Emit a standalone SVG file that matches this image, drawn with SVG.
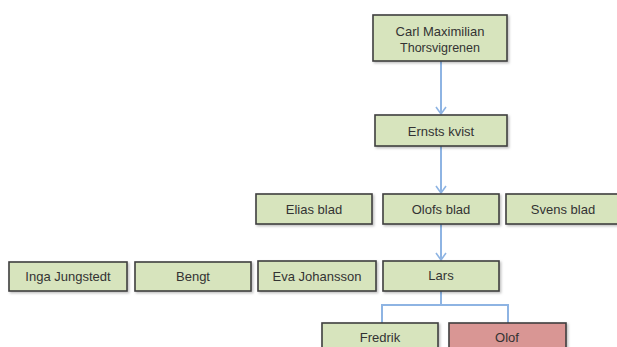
<svg xmlns="http://www.w3.org/2000/svg" width="617" height="347" viewBox="0 0 617 347">
<style>
.box{fill:#d7e4bd;stroke:#3f3f3f;stroke-width:1.6;filter:url(#sh)}
.red{fill:#d99694}
.t{font-family:"Liberation Sans",Arial,sans-serif;font-size:13px;fill:#333;text-anchor:middle;dominant-baseline:central}
.c{fill:none;stroke:#8eb4e3;stroke-width:2}
</style>
<defs>
<filter id="sh" x="-10%" y="-20%" width="130%" height="160%">
<feDropShadow dx="1.5" dy="1.5" stdDeviation="1" flood-color="#000" flood-opacity="0.25"/>
</filter>
<marker id="ah" viewBox="0 0 10 12" refX="9" refY="6" markerWidth="10" markerHeight="12" markerUnits="userSpaceOnUse" orient="auto">
<path d="M2,1 L9,6 L2,11" fill="none" stroke="#8eb4e3" stroke-width="1.6"/>
</marker>
</defs>
<g id="connectors">
<path class="c" d="M441,61 V114" marker-end="url(#ah)"/>
<path class="c" d="M441,146 V193" marker-end="url(#ah)"/>
<path class="c" d="M441,224 V260" marker-end="url(#ah)"/>
<path class="c" d="M441,291 V305 M382,323 V305 H508 V323"/>
</g>
<g id="carl"><rect class="box" x="373" y="15" width="134" height="46"/><text class="t" x="440" y="31">Carl Maximilian</text><text class="t" x="440" y="48" style="font-size:12.5px">Thorsvigrenen</text></g>
<g id="ernst"><rect class="box" x="375" y="115" width="132" height="31"/><text class="t" x="441" y="131">Ernsts kvist</text></g>
<g id="elias"><rect class="box" x="256" y="194" width="116" height="30"/><text class="t" x="314" y="209">Elias blad</text></g>
<g id="olofsblad"><rect class="box" x="383" y="194" width="116" height="30"/><text class="t" x="441" y="209">Olofs blad</text></g>
<g id="svens"><rect class="box" x="506" y="194" width="112" height="30"/><text class="t" x="563" y="209">Svens blad</text></g>
<g id="inga"><rect class="box" x="9" y="262" width="118" height="29"/><text class="t" x="68" y="276">Inga Jungstedt</text></g>
<g id="bengt"><rect class="box" x="135" y="262" width="116" height="29"/><text class="t" x="193" y="276">Bengt</text></g>
<g id="eva"><rect class="box" x="258" y="261" width="118" height="30"/><text class="t" x="317" y="276">Eva Johansson</text></g>
<g id="lars"><rect class="box" x="383" y="261" width="116" height="30"/><text class="t" x="441" y="275">Lars</text></g>
<g id="fredrik"><rect class="box" x="322" y="323" width="116" height="30"/><text class="t" x="380" y="337">Fredrik</text></g>
<g id="olof"><rect class="box red" x="449" y="323" width="117" height="30"/><text class="t" x="507" y="337">Olof</text></g>
</svg>
